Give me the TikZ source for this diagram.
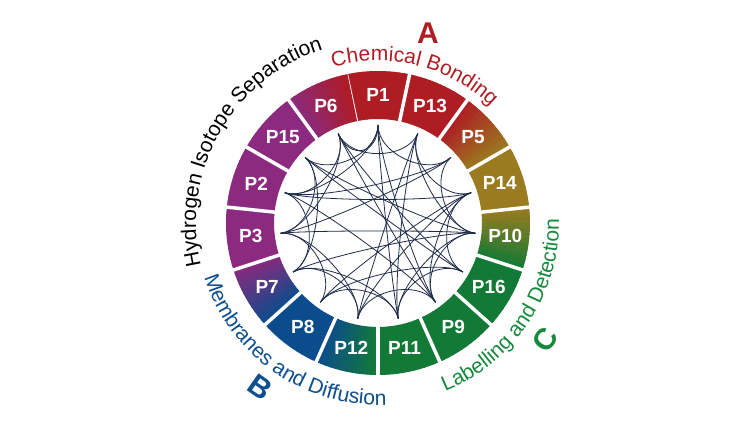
\documentclass[tikz,border=0pt]{standalone}
\usepackage{fontspec}
\setmainfont{Liberation Sans}
\usepackage{tikz}
\usetikzlibrary{calc,decorations.text}

\definecolor{cred}{HTML}{AE1C24}
\definecolor{colive}{HTML}{9A7B1F}
\definecolor{cgreen}{HTML}{127A36}
\definecolor{cblue}{HTML}{0B4C8C}
\definecolor{cpurple}{HTML}{8B2A7E}
\definecolor{cchord}{HTML}{1E2B4A}
\definecolor{tred}{HTML}{B01E23}
\definecolor{tblue}{HTML}{0D4F8F}
\definecolor{tgreen}{HTML}{168A3C}

\begin{document}
\begin{tikzpicture}[
  plabel/.style={text=white, font=\bfseries\fontsize{19}{19}\selectfont, inner sep=0pt},
  sep/.style={white, line width=3.5pt},
  chord/.style={cchord, line width=0.8pt},
  group/.style={font=\bfseries\fontsize{30}{30}\selectfont, inner sep=0pt}]
\useasboundingbox (-378pt,-207pt) rectangle (362pt,223pt);
\coordinate (o) at (0,0);
% ring of projects
\foreach \ang/\num/\ca/\cb in {90/1/cred/cred, 66/13/cred/cred, 42/5/cred/colive,
  18/14/colive/colive, -6/10/colive/cgreen, -30/16/cgreen/cgreen, -54/9/cgreen/cgreen,
  -78/11/cgreen/cgreen, -102/12/cgreen/cblue, -126/8/cblue/cblue, -150/7/cblue/cpurple,
  -174/3/cpurple/cpurple, 162/2/cpurple/cpurple, 138/15/cpurple/cpurple, 114/6/cpurple/cred}
{
  \foreach \k in {0,...,11}{
    \pgfmathsetmacro\s{\ang+12-2*\k}
    \pgfmathsetmacro\e{\s-2.4}
    \pgfmathtruncatemacro\pct{100*(\k+0.5)/12}
    \fill[\cb!\pct!\ca] (\s:104pt) arc[start angle=\s, end angle=\e, radius=104pt]
      -- (\e:152pt) arc[start angle=\e, end angle=\s, radius=152pt] -- cycle;
  }
  \draw[sep] (\ang+12:100pt) -- (\ang+12:156pt);
  \node[plabel] (p\num) at (\ang:128pt) {P\num};
  \coordinate (a\num) at (\ang:98pt);
}
% collaborations
\foreach \from/\to in {1/5, 13/14, 5/10, 14/16, 10/9, 16/11, 9/12, 11/8, 12/7, 8/3,
  7/2, 3/15, 2/6, 15/1, 6/13, 1/2, 14/9, 11/7, 3/6, 10/11, 12/3, 13/10, 15/7,
  2/14, 1/9, 1/11, 13/11, 13/12, 5/3, 5/2, 14/8, 14/12, 10/7, 10/3, 16/8,
  15/10, 15/16, 6/16, 6/9, 2/9, 1/6}
\draw[chord] (a\from) .. controls ($(a\from)!0.3!(o)$) and ($(a\to)!0.3!(o)$) .. (a\to);
% research areas
\path[decorate, decoration={text along path, text align=center,
  text={|\fontsize{21}{21}\selectfont\color{tred}|Chemical Bonding}}]
  (122:162pt) arc[start angle=122, end angle=30, radius=162pt];
\path[decorate, decoration={text along path, text align=center,
  text={|\fontsize{21}{21}\selectfont\color{black}|Hydrogen Isotope Separation}}]
  (210:182pt) arc[start angle=210, end angle=91, radius=182pt];
\path[decorate, decoration={text along path, text align=center,
  text={|\fontsize{21}{21}\selectfont\color{tblue}|Membranes and Diffusion}}]
  (-180:182pt) arc[start angle=-180, end angle=-70, radius=182pt];
\path[decorate, decoration={text along path, text align=center,
  text={|\fontsize{21}{21}\selectfont\color{tgreen}|Labelling and Detection}}]
  (-88:181pt) arc[start angle=-88, end angle=21, radius=181pt];
\node[group, text=tred] (ga) at (50pt,190pt) {A};
\node[group, text=tblue, rotate=-35] (gb) at (-118pt,-164pt) {B};
\node[group, text=tgreen, rotate=55] (gc) at (167pt,-117pt) {C};
\end{tikzpicture}
\end{document}
